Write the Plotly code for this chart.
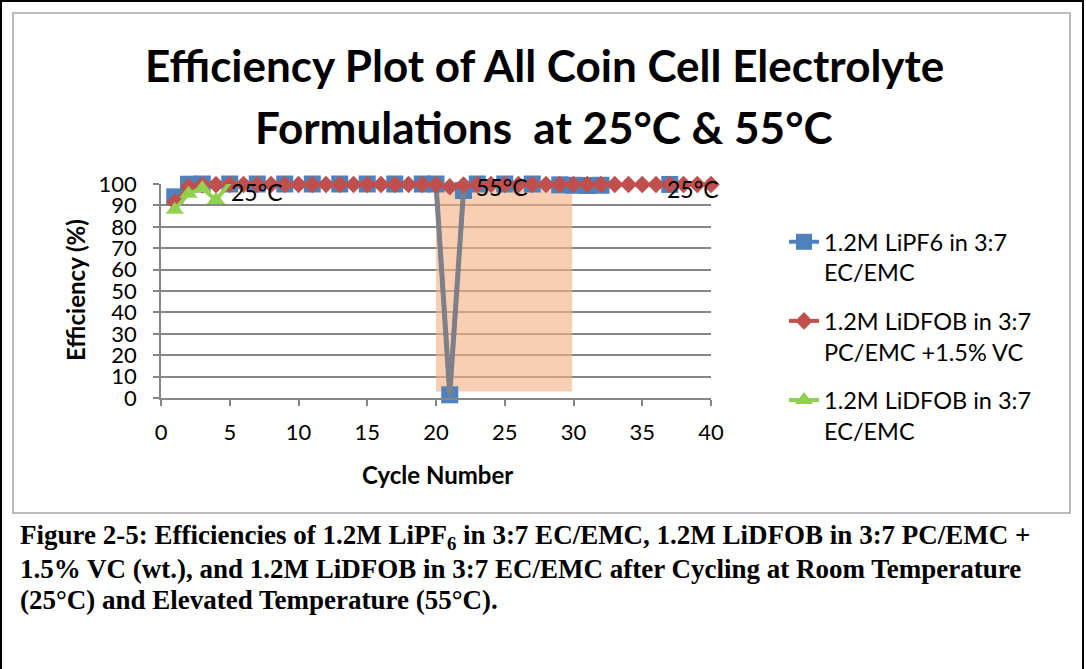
import plotly.graph_objects as go

W, H = 1086, 669

cycles = list(range(1, 41))
lipf6 = [94.0, 99.9, 100.0, 100.1, 100.0, 100.1, 100.0, 100.1, 100.0, 100.1,
         100.0, 100.1, 100.0, 100.1, 100.0, 100.1, 100.0, 100.1, 100.0, 100.0,
         1.5, 97.0, 100.0, 100.2, 100.0, 100.1, 100.0, 100.1, 99.6, 99.4,
         99.3, 99.4, 100.4, 100.6, 100.5, 100.4, 99.8, 100.3, 100.4, 100.2]
lidfob_pc = [91.5, 98.7, 99.5, 99.7, 99.8, 99.8, 99.8, 99.8, 99.8, 99.8,
             99.8, 99.8, 99.8, 99.8, 99.8, 99.8, 99.8, 99.8, 99.8, 99.8,
             98.7, 99.5, 99.7, 99.8, 99.8, 99.8, 99.8, 99.8, 99.8, 99.8,
             99.8, 99.8, 99.8, 99.8, 99.8, 99.8, 99.8, 99.8, 99.8, 99.8]
cycles_ec = [1, 2, 3, 4, 5]
lidfob_ec = [88.0, 95.5, 98.0, 92.5, 100.5]

names = ["1.2M LiPF6 in 3:7<br>EC/EMC",
         "1.2M LiDFOB in 3:7<br>PC/EMC +1.5% VC",
         "1.2M LiDFOB in 3:7<br>EC/EMC"]
gap_cycles = [20, 21, 22]
hot_window = [20, 29.9]
temp_labels = ["25°C", "55°C", "25°C"]
temp_x = [6.98, 24.8, 38.7]
temp_y = [96.3, 98.4, 97.7]
x_ticks = list(range(0, 41, 5))
y_ticks = list(range(0, 101, 10))

title_lines = ["Efficiency Plot of All Coin Cell Electrolyte",
               "Formulations  at 25°C & 55°C"]
caption_lines = [
    "Figure 2-5: Efficiencies of 1.2M LiPF<sub>6</sub> in 3:7 EC/EMC, 1.2M LiDFOB in 3:7 PC/EMC +",
    "1.5% VC (wt.), and 1.2M LiDFOB in 3:7 EC/EMC after Cycling at Room Temperature",
    "(25°C) and Elevated Temperature (55°C).",
]

BLUE = "#4F81BD"
RED = "#C0504D"
GREEN = "#92D050"
GRAY = "#7F7F8A"
FONT = "Lato, Carlito, Calibri, sans-serif"


def px(x):
    return x / W


def py(y):
    return 1 - y / H


fig = go.Figure()

fig.add_trace(go.Scatter(
    x=cycles, y=lipf6, mode="lines+markers", name=names[0], legendgroup="a",
    line=dict(color=BLUE, width=4), cliponaxis=False,
    marker=dict(symbol="square", size=17, color=BLUE),
))
fig.add_trace(go.Scatter(
    x=gap_cycles, y=[lipf6[c - 1] for c in gap_cycles], mode="lines",
    showlegend=False, hoverinfo="skip", cliponaxis=False,
    line=dict(color=GRAY, width=5),
))
fig.add_trace(go.Scatter(
    x=cycles, y=lidfob_pc, mode="lines+markers", name=names[1], legendgroup="b",
    line=dict(color=RED, width=4), cliponaxis=False,
    marker=dict(symbol="diamond", size=13.5, color=RED),
))
fig.add_trace(go.Scatter(
    x=cycles_ec, y=lidfob_ec, mode="lines+markers", name=names[2], legendgroup="c",
    line=dict(color=GREEN, width=4), cliponaxis=False,
    marker=dict(symbol="triangle-up", size=16, color=GREEN),
))

shapes = [
    dict(type="rect", xref="x", yref="y", x0=hot_window[0], x1=hot_window[1],
         y0=3, y1=100, fillcolor="rgba(244,177,131,0.62)", line=dict(width=0),
         layer="between"),
    dict(type="rect", xref="paper", yref="paper", x0=px(1), x1=px(1083),
         y0=py(700), y1=py(1), line=dict(color="black", width=2), layer="above"),
    dict(type="rect", xref="paper", yref="paper", x0=px(13), x1=px(1070),
         y0=py(513), y1=py(13), line=dict(color="#A6A6A6", width=1.5), layer="above"),
]

annotations = []
for i, t in enumerate(title_lines):
    annotations.append(dict(
        text=t, x=px(544), y=py(65 + 62 * i), xref="paper", yref="paper",
        xanchor="center", yanchor="middle", showarrow=False,
        font=dict(family=FONT, size=44, color="black", weight="bold")))
for t, xv, yv in zip(temp_labels, temp_x, temp_y):
    annotations.append(dict(
        text=t, x=xv, y=yv, xref="x", yref="y", xanchor="center",
        yanchor="middle", showarrow=False,
        font=dict(family=FONT, size=23, color="black")))
for i, t in enumerate(caption_lines):
    annotations.append(dict(
        text=t, x=px(18), y=py(537 + 31.5 * i), xref="paper", yref="paper",
        xanchor="left", yanchor="middle", showarrow=False,
        font=dict(family="Liberation Serif, Times New Roman, serif", size=27,
                  color="black", weight="bold")))
annotations.append(dict(
    text="Cycle Number", x=px(437), y=py(474), xref="paper", yref="paper",
    xanchor="center", yanchor="middle", showarrow=False,
    font=dict(family=FONT, size=24, color="black", weight="bold")))
annotations.append(dict(
    text="Efficiency (%)", x=px(75), y=py(290), xref="paper", yref="paper",
    xanchor="center", yanchor="middle", showarrow=False, textangle=-90,
    font=dict(family=FONT, size=24, color="black", weight="bold")))

fig.update_layout(
    width=W, height=H,
    margin=dict(l=0, r=0, t=0, b=0, autoexpand=False),
    paper_bgcolor="white", plot_bgcolor="white",
    font=dict(family=FONT, color="black"),
    shapes=shapes, annotations=annotations,
    xaxis=dict(domain=[px(161), px(711)], range=[0, 40], tickvals=x_ticks,
               showgrid=False, zeroline=False, showline=True,
               linecolor="#868686", linewidth=1.5, ticks="outside", ticklen=6,
               tickcolor="#868686", tickwidth=1.5, ticklabelstandoff=8,
               tickfont=dict(family=FONT, size=22, color="black")),
    yaxis=dict(domain=[py(398), py(184)], range=[0, 100], tickvals=y_ticks,
               showgrid=True, gridcolor="#868686", gridwidth=1.5, zeroline=False,
               showline=True, linecolor="#868686", linewidth=1.5,
               ticks="outside", ticklen=6, tickcolor="#868686", tickwidth=1.5,
               ticklabelstandoff=12,
               tickfont=dict(family=FONT, size=22, color="black")),
    legend=dict(x=px(784), y=py(220), xanchor="left", yanchor="top",
                font=dict(family=FONT, size=23.5, color="black"),
                valign="top", tracegroupgap=15, itemwidth=30,
                bgcolor="rgba(0,0,0,0)"),
    showlegend=True,
)

fig.write_html("out.html")
